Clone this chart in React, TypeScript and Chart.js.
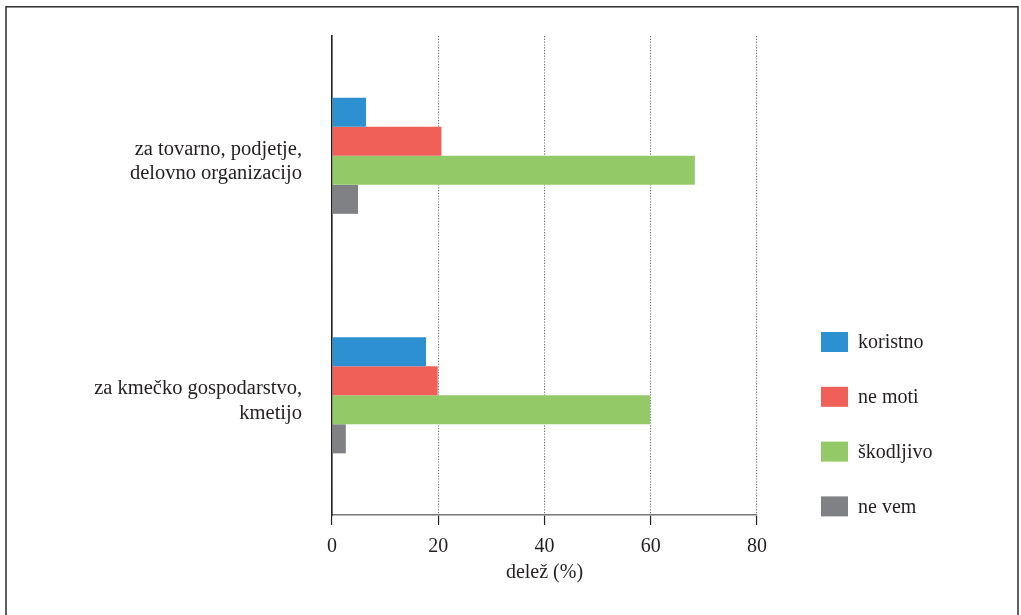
import React, { useEffect, useRef } from "react";
import { Chart, registerables } from "chart.js";

Chart.register(...registerables);

const categories: string[][] = [
  ["za tovarno, podjetje,", "delovno organizacijo"],
  ["za kmečko gospodarstvo,", "kmetijo"],
];
const seriesNames = ["koristno", "ne moti", "škodljivo", "ne vem"];
const koristno = [6.4, 17.7];
const neMoti = [20.6, 19.9];
const skodljivo = [68.3, 59.9];
const neVem = [4.9, 2.6];
const seriesColors = ["#2d91d1", "#f05f58", "#94c968", "#808185"];
const xTicks = [0, 20, 40, 60, 80];
const xTitle = "delež (%)";

const TEXT = "#231f20";
const FONT = "'Liberation Serif', 'Times New Roman', serif";

const framePlugin = {
  id: "frame",
  beforeDraw(chart: any) {
    const ctx = chart.ctx;
    ctx.save();
    ctx.fillStyle = "#ffffff";
    ctx.fillRect(0, 0, chart.width, chart.height);
    ctx.strokeStyle = TEXT;
    ctx.lineWidth = 1.4;
    ctx.strokeRect(6, 6.8, 1012, 700);
    ctx.restore();
  },
};

const sideLegend = {
  id: "sideLegend",
  afterDraw(chart: any) {
    const ctx = chart.ctx;
    const area = chart.chartArea;
    const x0 = area.right + 64;
    const y0 = 332;
    const step = 54.8;
    ctx.save();
    ctx.font = `20px ${FONT}`;
    ctx.textBaseline = "middle";
    ctx.textAlign = "left";
    chart.data.datasets.forEach((ds: any, i: number) => {
      const y = y0 + i * step;
      ctx.fillStyle = ds.backgroundColor;
      ctx.fillRect(x0, y, 27, 20);
      ctx.fillStyle = TEXT;
      ctx.fillText(ds.label, x0 + 37, y + 11);
    });
    ctx.restore();
  },
};

export default function App() {
  const ref = useRef<HTMLCanvasElement | null>(null);

  useEffect(() => {
    if (!ref.current) return;
    const values = [koristno, neMoti, skodljivo, neVem];
    const chart = new Chart(ref.current, {
      type: "bar",
      data: {
        labels: categories,
        datasets: seriesNames.map((name, i) => ({
          label: name,
          data: values[i],
          backgroundColor: seriesColors[i],
          borderWidth: 0,
          barPercentage: 1,
          categoryPercentage: 0.485,
        })),
      },
      options: {
        indexAxis: "y",
        responsive: false,
        animation: false,
        devicePixelRatio: 1,
        layout: { padding: { top: 36, right: 264, bottom: 0, left: 0 } },
        plugins: {
          legend: { display: false },
          tooltip: { enabled: false },
          title: { display: false },
        },
        scales: {
          x: {
            type: "linear",
            min: 0,
            max: 80,
            afterBuildTicks: (scale: any) => {
              scale.ticks = xTicks.map((v) => ({ value: v }));
            },
            afterFit: (scale: any) => {
              scale.height = 100;
            },
            border: { display: true, color: "#77787b", width: 1.6, dash: [1.2, 1.6] },
            grid: {
              display: true,
              color: "#6d6e71",
              lineWidth: 1.1,
              drawTicks: true,
              tickLength: 10,
              tickColor: TEXT,
              tickWidth: 1.2,
              tickBorderDash: [],
            },
            ticks: {
              color: TEXT,
              padding: 10,
              font: { family: FONT, size: 20 },
              maxRotation: 0,
            },
            title: {
              display: true,
              text: xTitle,
              color: TEXT,
              font: { family: FONT, size: 20 },
              padding: { top: 0, bottom: 30 },
            },
          },
          y: {
            type: "category",
            afterFit: (scale: any) => {
              scale.width = 332;
              scale.paddingTop = 0;
              scale.paddingBottom = 0;
            },
            border: { display: true, color: TEXT, width: 1.6 },
            grid: { display: false, drawTicks: false },
            ticks: {
              color: TEXT,
              padding: 30,
              labelOffset: 6,
              font: { family: FONT, size: 20.5, lineHeight: 1.2 },
            },
          },
        },
      },
      plugins: [framePlugin, sideLegend],
    } as any);
    return () => chart.destroy();
  }, []);

  return (
    <div
      style={{
        position: "fixed",
        left: 0,
        top: 0,
        width: 1021,
        height: 615,
        overflow: "hidden",
        background: "#fff",
      }}
    >
      <canvas ref={ref} width={1021} height={615} />
    </div>
  );
}
